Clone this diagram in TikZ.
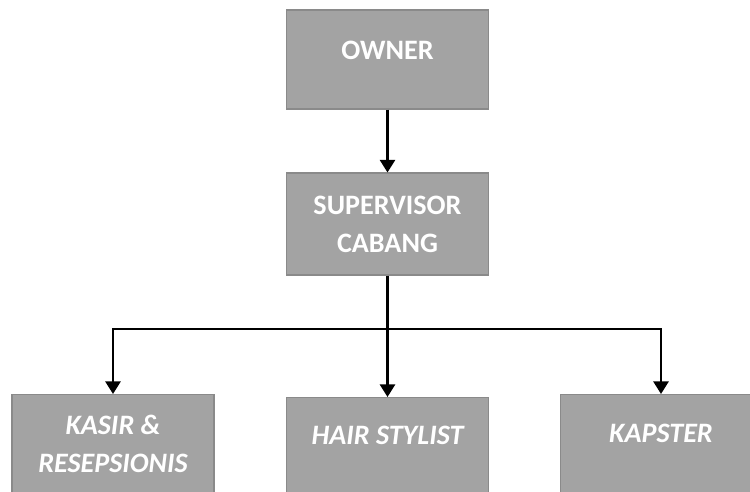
\documentclass[tikz,border=0pt]{standalone}
\usepackage{fontspec}
\setmainfont{Carlito}
\usepackage{tikz}
\usetikzlibrary{positioning, arrows.meta}
\definecolor{boxgray}{RGB}{163,163,163}
\definecolor{edgegray}{RGB}{138,138,138}
\tikzset{box/.style = {rectangle,draw=edgegray,fill=boxgray,line width=0.6pt,minimum width=4.04cm},
         txt/.style = {text=white,font=\fontsize{16}{21.5}\selectfont\bfseries,align=center},
         itxt/.style = {txt,font=\fontsize{16}{21.5}\selectfont\bfseries\itshape},
         arr/.style = {line width=1.3pt,-{Triangle[length=0.25cm,width=0.3cm]}}}
\begin{document}
\begin{tikzpicture}[x=0.02cm,y=-0.02cm]
                    \useasboundingbox (0,0) rectangle (750,492);

                    \node [box,minimum height=1.98cm,txt,text depth=0.38cm] (owner) at (387.5,59.5) {OWNER};
                    \node [box,minimum height=2.04cm,txt] (sup) at (387.5,224) {SUPERVISOR\\CABANG};

                    \node [box,minimum height=2.4cm,anchor=north] (kasir) at (113,394) {};
                    \node [box,minimum height=2.4cm,anchor=north] (hair) at (387.5,397) {};
                    \node [box,minimum height=2.4cm,anchor=north] (kapster) at (661,394) {};

                    \node [itxt] (kasirtext) at (113,444) {KASIR \&\\RESEPSIONIS};
                    \node [itxt] (hairtext) at (387.5,435) {HAIR STYLIST};
                    \node [itxt] (kapstertext) at (661,433) {KAPSTER};

                    \coordinate (bus) at (387.5,329);
                    \draw [arr] (owner) to (sup);
                    \draw [line width=1.3pt] (sup.south) to (bus);
                    \draw [arr] (bus) -| (kasir.north);
                    \draw [arr] (bus) to (hair.north);
                    \draw [arr] (bus) -| (kapster.north);
                \end{tikzpicture}
\end{document}
